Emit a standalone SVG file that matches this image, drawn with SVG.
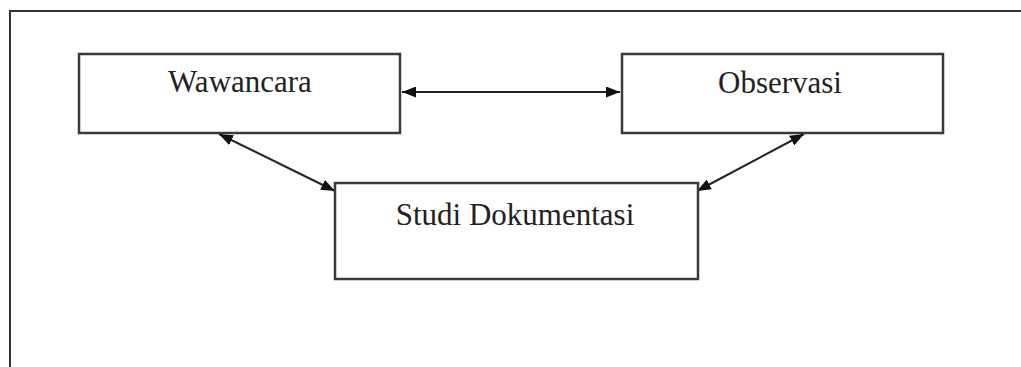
<svg xmlns="http://www.w3.org/2000/svg" width="1021" height="367" viewBox="0 0 1021 367">
  <style>
    .box { fill: #ffffff; stroke: #3a3a3a; stroke-width: 2.5; }
    .lbl { font-family: "Liberation Serif", "Times New Roman", serif; font-size: 31px; fill: #222; text-anchor: middle; }
    .con { stroke: #222; stroke-width: 2; fill: none; marker-start: url(#ah); marker-end: url(#ah); }
    .frame { stroke: #333; stroke-width: 2; fill: none; }
  </style>
  <defs>
    <marker id="ah" viewBox="0 0 14 11" refX="14" refY="5.5" markerWidth="14" markerHeight="11" markerUnits="userSpaceOnUse" orient="auto-start-reverse">
      <path d="M0,0 L14,5.5 L0,11 Z" fill="#111"/>
    </marker>
  </defs>
  <rect width="1021" height="367" fill="#ffffff"/>
  <g id="frame">
    <path class="frame" d="M10,367 L10,11 L1021,11"/>
  </g>
  <g id="connectors">
    <line class="con" x1="402" y1="92" x2="620" y2="92"/>
    <line class="con" x1="219" y1="134" x2="335" y2="191"/>
    <line class="con" x1="804" y1="134" x2="697" y2="191"/>
  </g>
  <g id="wawancara">
    <rect class="box" x="79" y="54" width="321" height="79"/>
    <text class="lbl" x="240" y="92">Wawancara</text>
  </g>
  <g id="observasi">
    <rect class="box" x="622" y="54" width="321" height="79"/>
    <text class="lbl" x="780" y="93">Observasi</text>
  </g>
  <g id="studi-dokumentasi">
    <rect class="box" x="335" y="183" width="363" height="96"/>
    <text class="lbl" x="515" y="225">Studi Dokumentasi</text>
  </g>
</svg>
